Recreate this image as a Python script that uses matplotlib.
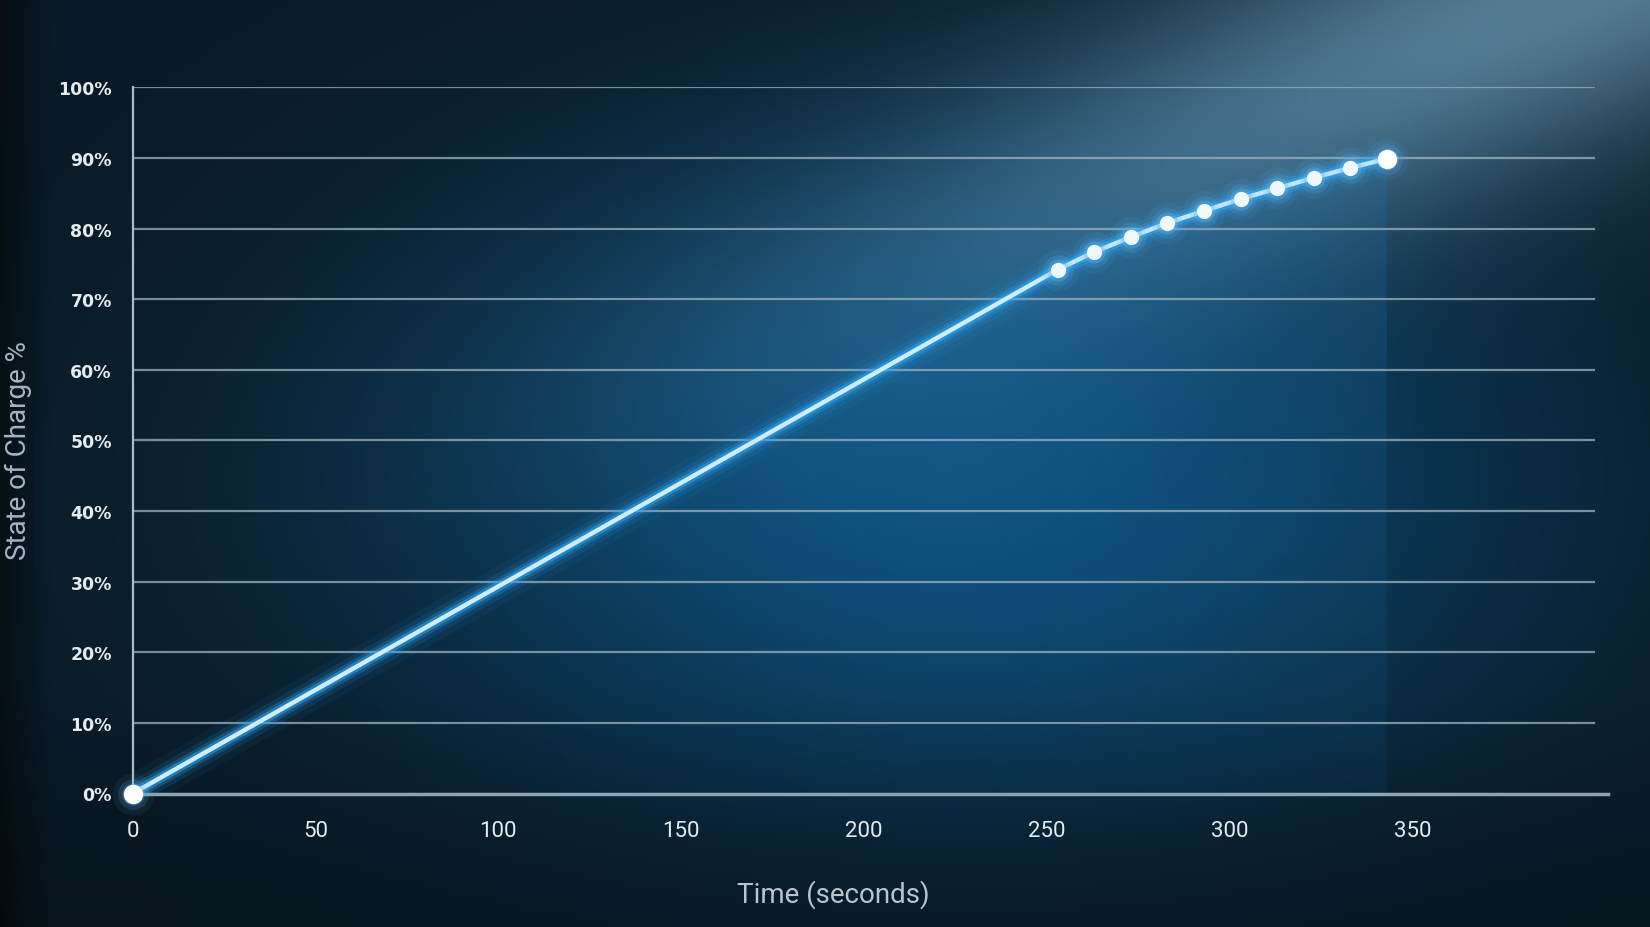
import matplotlib.pyplot as plt
import numpy as np
from matplotlib.patches import Polygon

# data
time_s = [0, 253, 263, 273, 283, 293, 303, 313, 323, 333, 343]
soc_pct = [0, 74.2, 76.7, 78.8, 80.8, 82.5, 84.2, 85.7, 87.2, 88.6, 89.9]
x_ticks = [0, 50, 100, 150, 200, 250, 300, 350]
y_ticks = [0, 10, 20, 30, 40, 50, 60, 70, 80, 90, 100]
y_labels = [f"{v}%" for v in y_ticks]

fig = plt.figure(figsize=(16.5, 9.28), dpi=100)

# background gradient
bg = fig.add_axes([0, 0, 1, 1], zorder=-10)
bg.axis("off")
H, W = 300, 540
yy, xx = np.mgrid[1:0:H * 1j, 0:1:W * 1j]
base = np.array([0.035, 0.10, 0.145])
img = np.ones((H, W, 3)) * base
# blue glow in the middle
g1 = np.exp(-(((xx - 0.58) / 0.33) ** 2 + ((yy - 0.48) / 0.36) ** 2))
img += g1[..., None] * np.array([0.015, 0.21, 0.34])
# light beam from top right
d = ((xx - 0.97) * 0.8 + (yy - 1.02) * 0.6)
perp = (-(xx - 0.97) * 0.6 + (yy - 1.02) * 0.8)
g2 = np.exp(-(d / 0.5) ** 2 - (perp / 0.15) ** 2)
img += g2[..., None] * np.array([0.30, 0.38, 0.42])
# darker left band
img *= (0.55 + 0.45 * np.clip(xx / 0.03, 0, 1))[..., None]
# darker bottom
img *= (0.75 + 0.25 * np.clip(yy / 0.25, 0, 1))[..., None]
bg.imshow(np.clip(img, 0, 1), extent=[0, 1, 0, 1], aspect="auto")

ax = fig.add_axes([132.6 / 1650, 133.5 / 928, (1608 - 132.6) / 1650, (839.6 - 133.5) / 928])
ax.patch.set_alpha(0)
ax.set_xlim(0, 403.5)
ax.set_ylim(0, 100)

# gridlines
ax.hlines(y_ticks[1:], 0, 400, color="#9db3c0", lw=1.6, alpha=0.75, zorder=1)
for s in ["top", "right"]:
    ax.spines[s].set_visible(False)
ax.spines["left"].set_color("#a9bcc7")
ax.spines["left"].set_linewidth(1.6)
ax.spines["bottom"].set_color("#8ea4b0")
ax.spines["bottom"].set_linewidth(2.5)

# glow fill under the curve
fill_img = np.zeros((256, 256, 4))
fill_img[..., 0] = 0.12
fill_img[..., 1] = 0.45
fill_img[..., 2] = 0.68
fy = np.linspace(1, 0, 256)[:, None]
fx = np.linspace(0, 1, 256)[None, :]
fill_img[..., 3] = 0.26 * (fx ** 1.2) * (0.35 + 0.65 * fy)
im = ax.imshow(fill_img, extent=[0, max(time_s), 0, 100], aspect="auto", zorder=0)
poly = Polygon(list(zip(time_s, soc_pct)) + [(max(time_s), 0), (0, 0)], closed=True,
               transform=ax.transData, visible=False)
ax.add_patch(poly)
im.set_clip_path(poly)

# glowing line
for lw, a in [(26, 0.06), (17, 0.12), (11, 0.25), (7, 0.5)]:
    ax.plot(time_s, soc_pct, color="#2fa6f5", lw=lw, alpha=a, solid_capstyle="round", zorder=3)
ax.plot(time_s, soc_pct, color="#cdeeff", lw=3.2, zorder=4, solid_capstyle="round")

# glowing markers
for ms, a in [(30, 0.08), (22, 0.16), (16, 0.32)]:
    ax.plot(time_s, soc_pct, "o", ms=ms, color="#5ab8f5", alpha=a, mec="none", zorder=5, clip_on=False)
ax.plot(time_s[1:-1], soc_pct[1:-1], "o", ms=11, color="#eef9ff", mec="none", zorder=6)
ax.plot([time_s[0], time_s[-1]], [soc_pct[0], soc_pct[-1]], "o", ms=14, color="#ffffff",
        mec="none", zorder=6, clip_on=False)

ax.set_xticks(x_ticks)
ax.set_xticklabels([str(v) for v in x_ticks], fontsize=16, color="#e4ebef", family="Roboto")
ax.set_yticks(y_ticks)
ax.set_yticklabels(y_labels, fontsize=12.5, color="#e4ebef", fontweight="bold", family="DejaVu Sans")
ax.tick_params(axis="x", length=0, pad=19)
ax.tick_params(axis="y", length=0, pad=15)

fig.text(833 / 1650, 1 - 895 / 928, "Time (seconds)", ha="center", va="center",
         fontsize=20, color="#b7c6ce", family="Roboto")
fig.text(18 / 1650, 1 - 451 / 928, "State of Charge %", ha="center", va="center", rotation=90,
         fontsize=20, color="#a5b5bf", family="Roboto")

fig.savefig("out.png", dpi=100)
